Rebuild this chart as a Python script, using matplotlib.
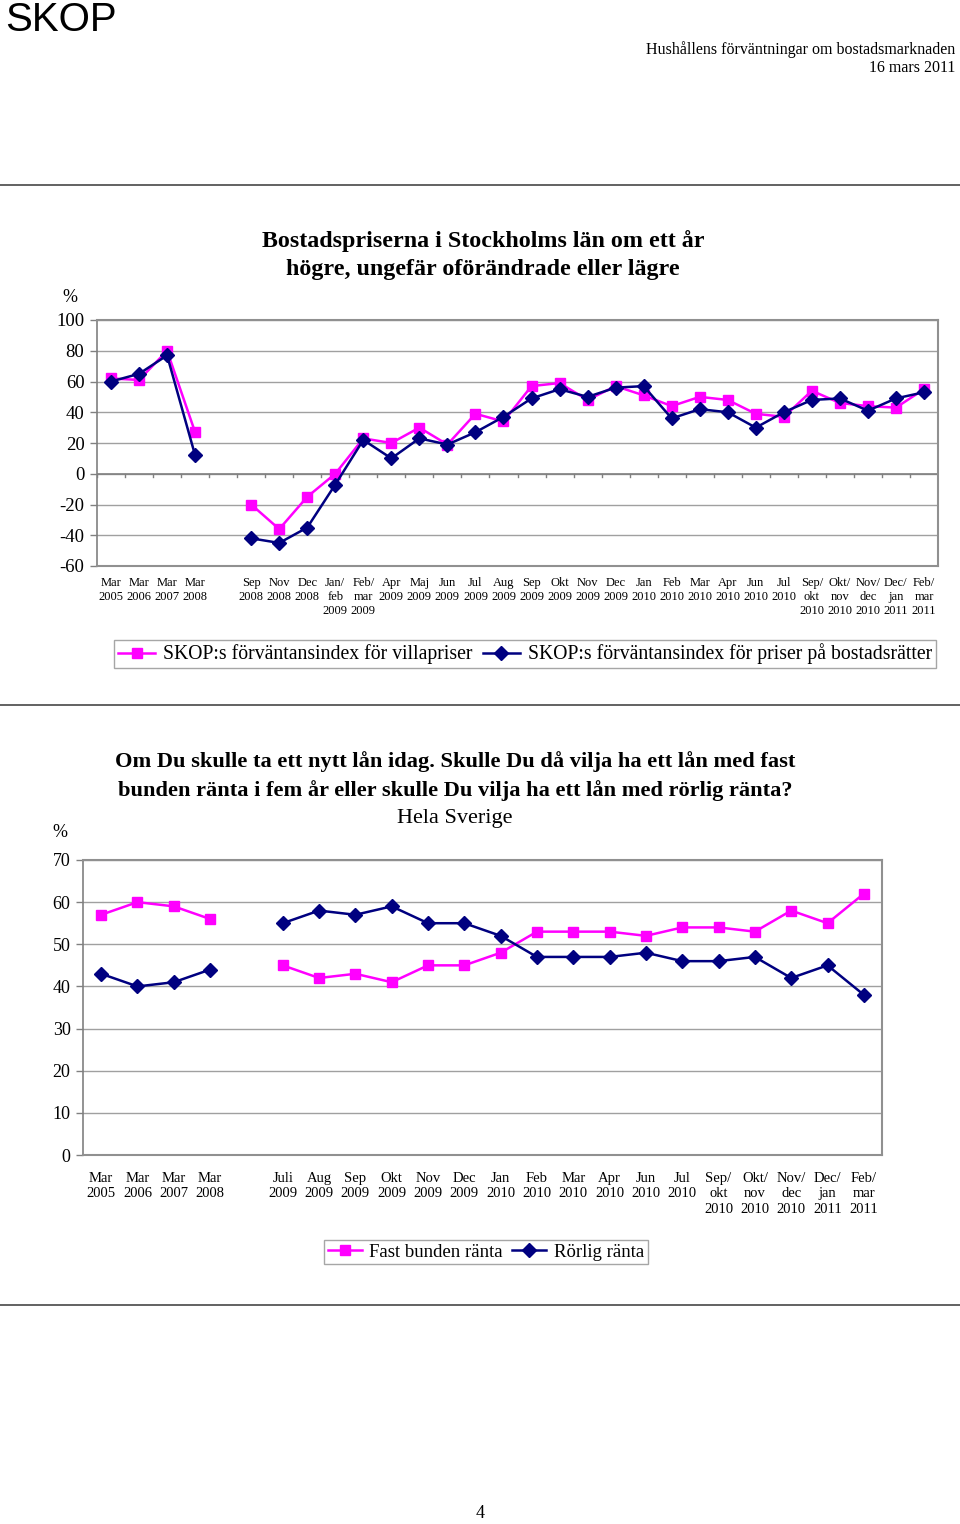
import matplotlib
matplotlib.use("Agg")
import matplotlib.pyplot as plt
from matplotlib.lines import Line2D
import numpy as np

plt.rcParams['font.family'] = ['Liberation Serif', 'DejaVu Serif']
plt.rcParams['axes.unicode_minus'] = False

# --- chart 1: Stockholms län ---
top_labels = ["Mar\n2005", "Mar\n2006", "Mar\n2007", "Mar\n2008", "",
              "Sep\n2008", "Nov\n2008", "Dec\n2008", "Jan/\nfeb\n2009", "Feb/\nmar\n2009",
              "Apr\n2009", "Maj\n2009", "Jun\n2009", "Jul\n2009", "Aug\n2009",
              "Sep\n2009", "Okt\n2009", "Nov\n2009", "Dec\n2009", "Jan\n2010",
              "Feb\n2010", "Mar\n2010", "Apr\n2010", "Jun\n2010", "Jul\n2010",
              "Sep/\nokt\n2010", "Okt/\nnov\n2010", "Nov/\ndec\n2010", "Dec/\njan\n2011", "Feb/\nmar\n2011"]
villa = [62, 61, 80, 27, np.nan,
         -20, -36, -15, 0, 23, 20, 30, 19, 39, 34,
         57, 59, 48, 57, 51, 44, 50, 48, 39, 37,
         54, 46, 44, 43, 55]
bostadsratt = [60, 65, 77, 12, np.nan,
               -42, -45, -35, -7, 22, 10, 23, 19, 27, 37,
               49, 55, 50, 56, 57, 36, 42, 40, 30, 40,
               48, 49, 41, 49, 53]

# --- chart 2: Hela Sverige ---
bot_labels = ["Mar\n2005", "Mar\n2006", "Mar\n2007", "Mar\n2008", "",
              "Juli\n2009", "Aug\n2009", "Sep\n2009", "Okt\n2009", "Nov\n2009", "Dec\n2009",
              "Jan\n2010", "Feb\n2010", "Mar\n2010", "Apr\n2010", "Jun\n2010", "Jul\n2010",
              "Sep/\nokt\n2010", "Okt/\nnov\n2010", "Nov/\ndec\n2010", "Dec/\njan\n2011", "Feb/\nmar\n2011"]
fast = [57, 60, 59, 56, np.nan,
        45, 42, 43, 41, 45, 45, 48, 53, 53, 53, 52, 54, 54, 53, 58, 55, 62]
rorlig = [43, 40, 41, 44, np.nan,
          55, 58, 57, 59, 55, 55, 52, 47, 47, 47, 48, 46, 46, 47, 42, 45, 38]

PINK = "#FF00FF"
NAVY = "#000080"
W, H = 960, 1524

fig = plt.figure(figsize=(9.6, 15.24), dpi=100)


def rect(l, t, r, b):
    return [l / W, 1 - b / H, (r - l) / W, (b - t) / H]


def hline(y):
    fig.add_artist(Line2D([0, 1], [1 - y / H, 1 - y / H], color="#555555", lw=1.3))


def style_axes(ax, n, ymin, ymax, step, labels, zero_line, xfs, xpad, xls):
    ax.set_xlim(-0.5, n - 0.5)
    ax.set_ylim(ymin, ymax)
    ax.set_yticks(np.arange(ymin, ymax + 1, step))
    ax.set_xticks(np.arange(n))
    ax.set_xticklabels(labels, fontsize=xfs, linespacing=xls)
    ax.tick_params(axis="x", length=0, pad=xpad)
    ax.tick_params(axis="y", length=5, width=1, color="#808080", labelsize=13.5, pad=4)
    ax.grid(axis="y", color="#A0A0A0", lw=1)
    ax.set_axisbelow(True)
    for s in ax.spines.values():
        s.set_color("#909090")
        s.set_linewidth(1.5)
    ax.spines["left"].set_color("#808080")
    ax.spines["left"].set_linewidth(1.2)
    if zero_line:
        ax.axhline(0, color="#808080", lw=1.2)
        for xb in np.arange(n + 1) - 0.5:
            ax.plot([xb, xb], [0, -(ymax - ymin) * 0.012], color="#808080", lw=1)


def draw_series(ax, a, b):
    x = np.arange(len(a))
    ax.plot(x, a, color=PINK, lw=1.8, marker="s", ms=7, mec=PINK, mfc=PINK, zorder=3)
    ax.plot(x, b, color=NAVY, lw=1.8, marker="D", ms=7, mec=NAVY, mfc=NAVY, zorder=4)


# header
fig.text(5 / W, 1 - 20 / H, "SKOP", fontsize=29, family="Liberation Sans", va="center", ha="left")
fig.text(955 / W, 1 - 50 / H, "Hushållens förväntningar om bostadsmarknaden", fontsize=11.5, ha="right", va="center")
fig.text(955 / W, 1 - 68 / H, "16 mars 2011", fontsize=11.5, ha="right", va="center")
hline(185)
hline(705)
hline(1305)

# top chart
ax1 = fig.add_axes(rect(97, 320, 938, 566))
draw_series(ax1, villa, bostadsratt)
style_axes(ax1, len(top_labels), -60, 100, 20, top_labels, True, 9, 8, 1.2)
fig.text(483 / W, 1 - 255 / H, "Bostadspriserna i Stockholms län om ett år\nhögre, ungefär oförändrade eller lägre",
         fontsize=17.3, weight="bold", ha="center", va="center", linespacing=1.38)
fig.text(70 / W, 1 - 298 / H, "%", fontsize=13, ha="center", va="center")
h1 = [Line2D([], [], color=PINK, lw=1.8, marker="s", ms=7),
      Line2D([], [], color=NAVY, lw=1.8, marker="D", ms=7)]
fig.legend(h1, ["SKOP:s förväntansindex för villapriser", "SKOP:s förväntansindex för priser på bostadsrätter"],
           loc="center", bbox_to_anchor=(525 / W, 1 - 654 / H), ncol=2, fontsize=14.2, frameon=True,
           fancybox=False, edgecolor="#909090", handlelength=1.9, handletextpad=0.4, columnspacing=0.5,
           borderpad=0.2, borderaxespad=0)

# bottom chart
ax2 = fig.add_axes(rect(83, 860, 882, 1155))
draw_series(ax2, fast, rorlig)
style_axes(ax2, len(bot_labels), 0, 70, 10, bot_labels, False, 10.5, 12, 1.25)
ax2.tick_params(axis="y", labelsize=13)
fig.text(455 / W, 1 - 776 / H, "Om Du skulle ta ett nytt lån idag. Skulle Du då vilja ha ett lån med fast\n"
         "bunden ränta i fem år eller skulle Du vilja ha ett lån med rörlig ränta?",
         fontsize=16.1, weight="bold", ha="center", va="center", linespacing=1.45)
fig.text(455 / W, 1 - 818 / H, "Hela Sverige", fontsize=16, ha="center", va="center")
fig.text(60 / W, 1 - 833 / H, "%", fontsize=13, ha="center", va="center")
h2 = [Line2D([], [], color=PINK, lw=1.8, marker="s", ms=7),
      Line2D([], [], color=NAVY, lw=1.8, marker="D", ms=7)]
fig.legend(h2, ["Fast bunden ränta", "Rörlig ränta"],
           loc="center", bbox_to_anchor=(486 / W, 1 - 1252 / H), ncol=2, fontsize=13.5, frameon=True,
           fancybox=False, edgecolor="#909090", handlelength=1.8, handletextpad=0.4, columnspacing=0.5,
           borderpad=0.2, borderaxespad=0)

fig.text(480 / W, 1 - 1513 / H, "4", fontsize=13, ha="center", va="center")

fig.savefig("out.png", dpi=100)
